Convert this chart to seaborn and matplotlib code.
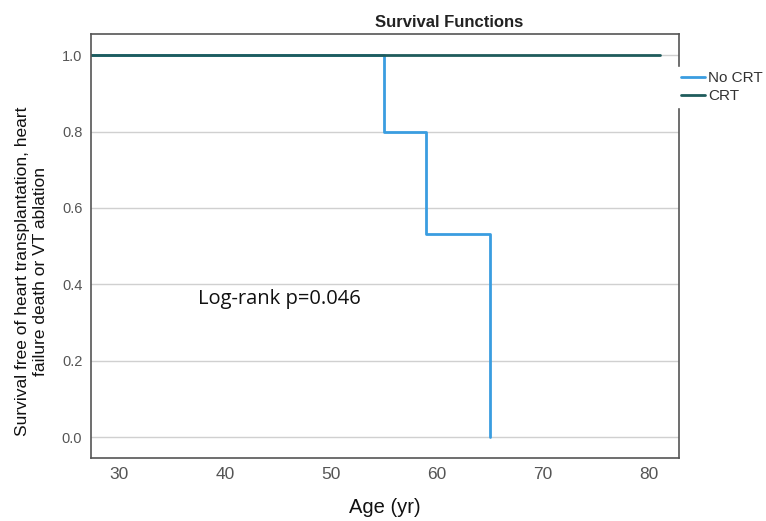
import matplotlib
matplotlib.use("Agg")
import matplotlib.pyplot as plt
import seaborn as sns
import pandas as pd
from matplotlib.lines import Line2D

# Data
groups = ["No CRT", "CRT"]
no_crt_age = [27.3, 55, 59, 65]
no_crt_surv = [1.0, 0.8, 0.533, 0.0]
crt_age = [27.3, 81]
crt_surv = [1.0, 1.0]
x_ticks = [30, 40, 50, 60, 70, 80]
y_ticks = [0.0, 0.2, 0.4, 0.6, 0.8, 1.0]
y_tick_labels = ["0.0", "0.2", "0.4", "0.6", "0.8", "1.0"]
colors = {"No CRT": "#3a9de0", "CRT": "#1f5c5c"}

df = pd.concat([
    pd.DataFrame({"Age": no_crt_age, "Survival": no_crt_surv, "Group": "No CRT"}),
    pd.DataFrame({"Age": crt_age, "Survival": crt_surv, "Group": "CRT"}),
], ignore_index=True)

sns.set_style("white")
plt.rcParams["font.family"] = ["Liberation Sans", "DejaVu Sans"]

fig = plt.figure(figsize=(7.66, 5.21), dpi=100)
ax = fig.add_axes([90.7 / 766, (521 - 457.7) / 521, 588.3 / 766, 423.7 / 521])

ax.yaxis.grid(True, color="#d0d0d0", linewidth=1)
ax.set_axisbelow(True)

sns.lineplot(data=df, x="Age", y="Survival", hue="Group", hue_order=groups,
             palette=colors, drawstyle="steps-post", estimator=None,
             linewidth=2, ax=ax, legend=False, sort=False)

ax.set_xlim(27.33, 82.83)
ax.set_ylim(-0.053, 1.055)
ax.set_xticks(x_ticks)
ax.set_yticks(y_ticks)
ax.set_yticklabels(y_tick_labels)
ax.tick_params(axis="x", colors="#555555", labelsize=12.5, length=0, pad=7)
ax.tick_params(axis="y", colors="#555555", labelsize=10.5, length=0, pad=6)
for s in ax.spines.values():
    s.set_color("#555555")
    s.set_linewidth(1.2)

ax.set_title("Survival Functions", fontsize=12, fontweight="bold",
             x=0.609, pad=5, color="#222222")
ax.set_xlabel("Age (yr)", fontsize=14.5, labelpad=11, color="#111111")
ax.set_ylabel("Survival free of heart transplantation, heart\nfailure death or VT ablation",
              fontsize=12.5, linespacing=1.2, color="#111111")
ax.yaxis.set_label_coords(-0.073, 0.44)

ax.text(0.182, 0.362, "Log-rank p=0.046", transform=ax.transAxes,
        fontsize=14.5, family=["Open Sans", "DejaVu Sans"], color="#111111")

handles = [Line2D([], [], color=colors[g], linewidth=2) for g in groups]
leg = ax.legend(handles, groups, loc="upper left", bbox_to_anchor=(0.997, 0.921),
                frameon=True, fancybox=False, framealpha=1, edgecolor="white",
                fontsize=11, handlelength=1.6, handletextpad=0.15,
                labelspacing=0.25, borderaxespad=0, borderpad=0.25)
for t in leg.get_texts():
    t.set_color("#333333")

fig.savefig("out.png", dpi=100)
